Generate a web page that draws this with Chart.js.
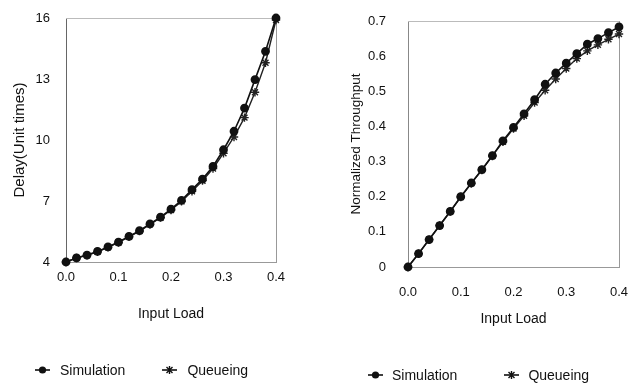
<!DOCTYPE html>
<html>
<head>
<meta charset="utf-8">
<script src="https://cdn.jsdelivr.net/npm/chart.js@4/dist/chart.umd.min.js"></script>
<style>
  body { margin: 0; background: #fff; font-family: "Liberation Sans", Arial, sans-serif; }
  .panel { position: absolute; top: 0; width: 316px; height: 383px; }
  #leftPanel { left: 0; }
  #rightPanel { left: 316px; }
  .legend { position: absolute; font-size: 14px; line-height: 16px; height: 16px; color: #111; white-space: nowrap; display: flex; align-items: center; }
  .legend .item { display: flex; align-items: center; }
  .legend canvas { display: block; }
</style>
</head>
<body>
<div class="panel" id="leftPanel"><canvas id="delayChart" width="316" height="383"></canvas></div>
<div class="panel" id="rightPanel"><canvas id="throughputChart" width="316" height="383"></canvas></div>
<div class="legend" id="leftLegend" style="left:35px; top:362px;"></div>
<div class="legend" id="rightLegend" style="left:368px; top:367px;"></div>
<script>
`use strict`

// 入力負荷
const loads = [0, 0.02, 0.04, 0.06, 0.08, 0.10, 0.12, 0.14, 0.16, 0.18, 0.20,
  0.22, 0.24, 0.26, 0.28, 0.30, 0.32, 0.34, 0.36, 0.38, 0.40];

// 遅延
const delaySimulation = [4.0, 4.2, 4.34, 4.52, 4.74, 4.98, 5.26, 5.54, 5.87, 6.21, 6.6,
  7.03, 7.56, 8.08, 8.7, 9.52, 10.43, 11.57, 12.97, 14.36, 16.0];
const delayQueueing = [4.0, 4.2, 4.33, 4.5, 4.72, 4.96, 5.24, 5.52, 5.85, 6.18, 6.56,
  6.98, 7.48, 8.0, 8.6, 9.35, 10.15, 11.1, 12.35, 13.8, 15.9];

// スループット
const thrSimulation = [0, 0.038, 0.078, 0.118, 0.158, 0.2, 0.239, 0.277, 0.317, 0.359, 0.397,
  0.436, 0.476, 0.52, 0.552, 0.58, 0.607, 0.634, 0.65, 0.667, 0.683];
const thrQueueing = [0, 0.038, 0.078, 0.118, 0.158, 0.199, 0.238, 0.276, 0.316, 0.356, 0.394,
  0.43, 0.468, 0.503, 0.535, 0.565, 0.593, 0.615, 0.632, 0.648, 0.663];

const seriesNames = ['Simulation', 'Queueing'];
const delayTicks = [4, 7, 10, 13, 16];
const loadTicks = [0, 0.1, 0.2, 0.3, 0.4];

const toPoints = (values) => values.map((v, i) => ({ x: loads[i], y: v }));
const tickFont = { family: '"Liberation Sans", Arial, sans-serif', size: 13 };

// 軸の自動パディングを消す
const noPad = (scale) => {
  scale.paddingTop = 0;
  scale.paddingBottom = 0;
  scale.paddingLeft = 0;
  scale.paddingRight = 0;
};

function makeChart(id, sim, que, yOpts, yTitle, cfg) {
  const ctx = document.getElementById(id);
  return new Chart(ctx, {
    type: 'line',
    data: {
      datasets: [{
        label: seriesNames[0],
        data: toPoints(sim),
        borderColor: '#111',
        backgroundColor: '#111',
        borderWidth: 1.6,
        pointStyle: 'circle',
        pointRadius: 3.6,
        clip: false,
      }, {
        label: seriesNames[1],
        data: toPoints(que),
        borderColor: '#222',
        backgroundColor: '#222',
        borderWidth: 1.4,
        pointStyle: 'star',
        pointRadius: 4.2,
        pointBorderWidth: 1.4,
        clip: false,
      }]
    },
    options: {
      responsive: false,
      animation: false,
      layout: { padding: cfg.padding },
      plugins: { legend: { display: false }, tooltip: { enabled: false } },
      scales: {
        x: {
          type: 'linear',
          min: 0,
          max: 0.4,
          afterBuildTicks: (scale) => { scale.ticks = loadTicks.map(v => ({ value: v })); },
          afterFit: (scale) => { scale.height = cfg.xHeight; noPad(scale); },
          grid: { display: false, drawTicks: false },
          border: { color: '#999', dash: [2, 7] },
          ticks: {
            font: tickFont, color: '#111', padding: cfg.xPad, maxRotation: 0,
            callback: (value) => value.toFixed(1),
          },
          title: {
            display: true, text: 'Input Load', color: '#111',
            font: { family: tickFont.family, size: 14 }, padding: { top: 4, bottom: 4 },
          },
        },
        y: Object.assign({
          afterFit: (scale) => { scale.width = cfg.yWidth; noPad(scale); },
          grid: { display: false, drawTicks: false },
          border: cfg.yBorder,
          title: {
            display: true, text: yTitle, color: '#111',
            font: { family: tickFont.family, size: cfg.yTitleSize }, padding: 0,
          },
        }, yOpts),
        x2: {
          type: 'linear', position: 'top', min: 0, max: 0.4,
          afterFit: (scale) => { scale.height = 0; noPad(scale); },
          grid: { display: false, drawTicks: false }, ticks: { display: false },
          border: { color: '#bbb', dash: [6, 5, 2, 5] },
        },
        y2: {
          type: 'linear', position: 'right',
          afterFit: (scale) => { scale.width = 0; noPad(scale); },
          grid: { display: false, drawTicks: false }, ticks: { display: false },
          border: { color: '#999', dash: [2, 4] },
        },
      }
    }
  });
}

makeChart('delayChart', delaySimulation, delayQueueing, {
  min: 4, max: 16,
  afterBuildTicks: (scale) => { scale.ticks = delayTicks.map(v => ({ value: v })); },
  ticks: { font: tickFont, color: '#111', padding: 16 },
}, 'Delay(Unit times)', {
  padding: { top: 18, left: 11, right: 40, bottom: 56 },
  xHeight: 65, yWidth: 55, xPad: 8, yTitleSize: 15,
  yBorder: { color: '#666' },
});

makeChart('throughputChart', thrSimulation, thrQueueing, {
  min: 0, max: 0.7,
  ticks: { font: tickFont, color: '#111', padding: 22, stepSize: 0.1,
    callback: (value) => value === 0 ? '0' : value.toFixed(1) },
}, 'Normalized Throughput', {
  padding: { top: 21, left: 32, right: 13, bottom: 51 },
  xHeight: 65, yWidth: 60, xPad: 18, yTitleSize: 13.5,
  yBorder: { color: '#888', dash: [3, 3] },
});

// 凡例
function drawMarker(canvas, style) {
  const c = canvas.getContext('2d');
  c.strokeStyle = '#111';
  c.fillStyle = '#111';
  c.lineWidth = 1.6;
  c.beginPath();
  c.moveTo(0, 8); c.lineTo(15, 8);
  c.stroke();
  if (style === 'circle') {
    c.beginPath();
    c.arc(7.5, 8, 3.6, 0, Math.PI * 2);
    c.fill();
  } else {
    c.lineWidth = 1.4;
    c.beginPath();
    c.moveTo(7.5, 4); c.lineTo(7.5, 12);
    c.moveTo(4.5, 5); c.lineTo(10.5, 11);
    c.moveTo(10.5, 5); c.lineTo(4.5, 11);
    c.stroke();
  }
}

const legendGaps = { leftLegend: [10, 37], rightLegend: [9, 47] };
['leftLegend', 'rightLegend'].forEach((id) => {
  const el = document.getElementById(id);
  seriesNames.forEach((name, i) => {
    const item = document.createElement('span');
    item.className = 'item';
    if (i > 0) item.style.marginLeft = legendGaps[id][1] + 'px';
    const mk = document.createElement('canvas');
    mk.width = 15; mk.height = 16;
    mk.style.marginRight = legendGaps[id][0] + 'px';
    drawMarker(mk, i === 0 ? 'circle' : 'star');
    item.appendChild(mk);
    item.appendChild(document.createTextNode(name));
    el.appendChild(item);
  });
});
</script>
</body>
</html>
